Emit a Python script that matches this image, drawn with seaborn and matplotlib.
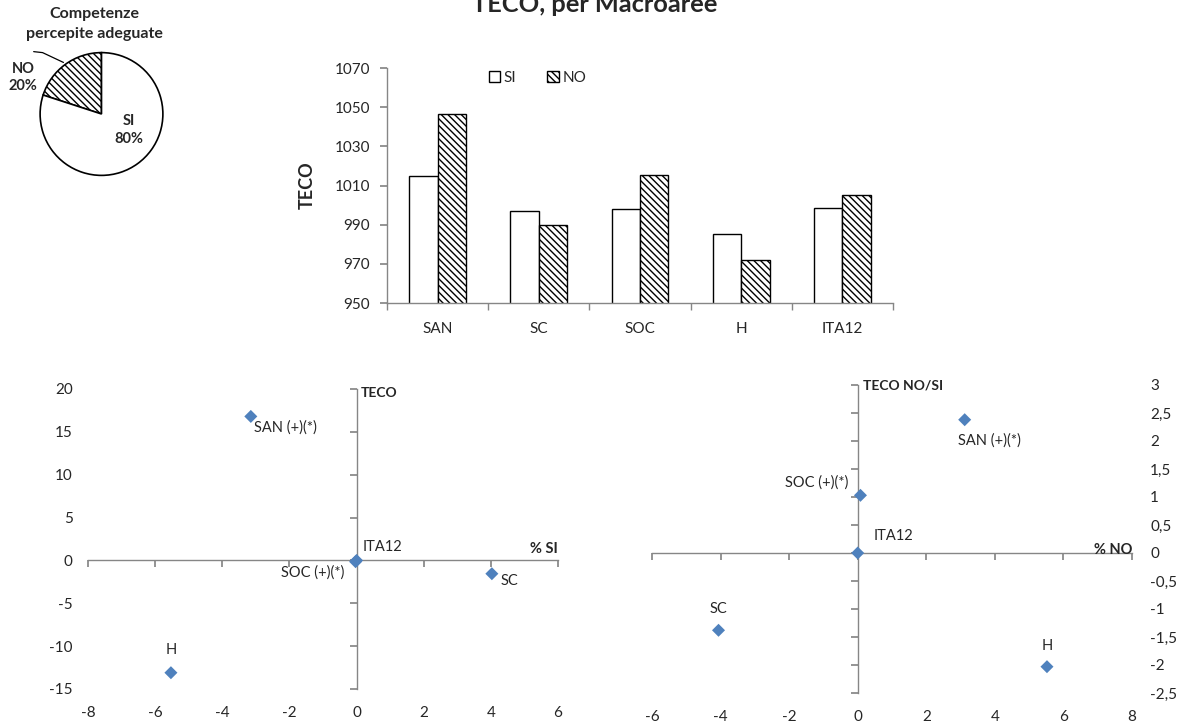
import matplotlib
matplotlib.use("Agg")
import matplotlib.pyplot as plt
from matplotlib.patches import Patch
from matplotlib.ticker import FuncFormatter
import seaborn as sns
import pandas as pd

# --- data -------------------------------------------------------------
pie_labels = ["NO", "SI"]
pie_values = [20, 80]

macroaree = ["SAN", "SC", "SOC", "H", "ITA12"]
teco_si = [1015.0, 996.9, 998.1, 985.3, 998.5]
teco_no = [1046.4, 989.8, 1015.4, 972.0, 1005.3]
bar_yticks = [950, 970, 990, 1010, 1030, 1050, 1070]

sc1_labels = ["SAN (+)(*)", "SC", "SOC (+)(*)", "H", "ITA12"]
sc1_x = [-3.15, 4.03, -0.03, -5.53, 0.0]
sc1_y = [16.8, -1.55, -0.15, -13.1, 0.0]
sc1_xticks = [-8, -6, -4, -2, 0, 2, 4, 6]
sc1_yticks = [-15, -10, -5, 0, 5, 10, 15, 20]

sc2_labels = ["SAN (+)(*)", "SC", "SOC (+)(*)", "H", "ITA12"]
sc2_x = [3.12, -4.06, 0.08, 5.52, 0.0]
sc2_y = [2.38, -1.38, 1.03, -2.03, 0.0]
sc2_xticks = [-6, -4, -2, 0, 2, 4, 6, 8]
sc2_yticks = [-2.5, -2, -1.5, -1, -0.5, 0, 0.5, 1, 1.5, 2, 2.5, 3]

# label placement (offset points, ha)
sc1_offsets = {"SAN (+)(*)": ((2.5, -8), "left"), "SC": ((6.5, -5), "left"),
               "SOC (+)(*)": ((-8, -8), "right"), "H": ((0, 16), "center"),
               "ITA12": ((4.3, 10), "left")}
sc2_offsets = {"SAN (+)(*)": ((-5, -15), "left"), "SC": ((0, 15), "center"),
               "SOC (+)(*)": ((-9, 9.4), "right"), "H": ((0, 15), "center"),
               "ITA12": ((11.5, 12), "left")}

GREY = "#868686"
BLUE = "#4F81BD"
HATCH = "\\\\\\\\\\"
W, H = 1178, 722

sns.set_theme(style="white")
plt.rcParams["font.family"] = ["Lato", "DejaVu Sans"]
plt.rcParams["font.size"] = 10.5
plt.rcParams["hatch.linewidth"] = 1.0
plt.rcParams["axes.unicode_minus"] = False

fig = plt.figure(figsize=(W / 100, H / 100), dpi=100)


def box(left, top, right, bottom):
    return [left / W, 1 - bottom / H, (right - left) / W, (bottom - top) / H]


# --- pie ---------------------------------------------------------------
axp = fig.add_axes(box(39.5, 52, 163.5, 176))
wedges, _ = axp.pie(pie_values, startangle=90, counterclock=True,
                    colors=["white", "white"],
                    wedgeprops=dict(edgecolor="black", linewidth=1.2))
wedges[0].set_hatch(HATCH)
axp.set_xlim(-1.01, 1.01)
axp.set_ylim(-1.01, 1.01)
axp.text(-1.28, 0.6, f"{pie_labels[0]}\n{pie_values[0]}%", ha="center", va="center",
         fontweight="bold", fontsize=10.5, linespacing=1.3, clip_on=False)
axp.text(0.44, -0.26, f"{pie_labels[1]}\n{pie_values[1]}%", ha="center", va="center",
         fontweight="bold", fontsize=10.5, linespacing=1.3)
axp.plot([-1.105, -0.96, -0.62], [1.016, 1.0, 0.84], color="black", lw=0.9, clip_on=False)
fig.text(94 / W, 1 - 24 / H, "Competenze\npercepite adeguate", ha="center", va="center",
         fontweight="bold", fontsize=11.5, linespacing=1.5)

# --- bars --------------------------------------------------------------
axb = fig.add_axes(box(387, 68, 893, 303))
df = pd.DataFrame({"Macroarea": macroaree * 2,
                   "TECO": teco_si + teco_no,
                   "Risposta": ["SI"] * len(macroaree) + ["NO"] * len(macroaree)})
sns.barplot(data=df, x="Macroarea", y="TECO", hue="Risposta",
            palette={"SI": "white", "NO": "white"}, edgecolor="black", linewidth=1,
            width=0.56, errorbar=None, legend=False, saturation=1, ax=axb)
for bar in axb.containers[1]:
    bar.set_hatch(HATCH)
axb.set_ylim(950, 1070)
axb.set_yticks(bar_yticks)
axb.set_xlim(-0.5, len(macroaree) - 0.5)
axb.set_xlabel("")
axb.set_ylabel("TECO", fontsize=13, fontweight="bold")
axb.yaxis.set_label_coords(-(387 - 316) / 506, 0.5)
for s in ["top", "right"]:
    axb.spines[s].set_visible(False)
for s in ["left", "bottom"]:
    axb.spines[s].set_color(GREY)
    axb.spines[s].set_linewidth(1)
axb.set_xticks([i - 0.5 for i in range(len(macroaree) + 1)], minor=True)
axb.tick_params(axis="x", which="major", length=0, pad=14)
axb.tick_params(axis="x", which="minor", length=5, color=GREY, direction="out", bottom=True)
axb.tick_params(axis="y", length=5, color=GREY, direction="out", left=True, pad=7)
fig.legend(handles=[Patch(facecolor="white", edgecolor="black", label="SI"),
                    Patch(facecolor="white", edgecolor="black", hatch=HATCH, label="NO")],
           ncol=2, loc="center left", bbox_to_anchor=(481 / W, 1 - 78 / H), frameon=False,
           handlelength=0.75, handleheight=0.75, handletextpad=0.25, columnspacing=2.0,
           borderpad=0, fontsize=11)
fig.text(594.5 / W, 1 - 12.5 / H, "TECO, per Macroaree", ha="center", va="baseline",
         fontsize=18.3, fontweight="bold")


# --- scatters ----------------------------------------------------------
def quadrant(ax, xs, ys, labels, offsets):
    sns.scatterplot(x=xs, y=ys, marker="D", s=44, color=BLUE, edgecolor="none",
                    ax=ax, zorder=4, clip_on=False)
    for lab, x, y in zip(labels, xs, ys):
        off, ha = offsets[lab]
        ax.annotate(lab, (x, y), xytext=off, textcoords="offset points",
                    ha=ha, va="center", fontsize=10.5)
    ax.spines["top"].set_position(("data", 0))
    ax.spines["bottom"].set_visible(False)
    ax.tick_params(axis="x", bottom=False, top=True, labelbottom=True, labeltop=False,
                   direction="in", length=5, color=GREY, pad=12)


ax1 = fig.add_axes(box(88, 389, 558, 689))
quadrant(ax1, sc1_x, sc1_y, sc1_labels, sc1_offsets)
ax1.set_xlim(-8, 6)
ax1.set_ylim(-15, 20)
ax1.set_xticks(sc1_xticks)
ax1.set_yticks(sc1_yticks)
ax1.spines["right"].set_position(("data", 0))
ax1.spines["left"].set_visible(False)
for s in ["top", "right"]:
    ax1.spines[s].set_color(GREY)
    ax1.spines[s].set_linewidth(1)
ax1.tick_params(axis="y", left=False, right=True, labelleft=True, labelright=False,
                direction="in", length=5, color=GREY, pad=11)
ax1.annotate("TECO", (0, 20), xytext=(3, -3), textcoords="offset points",
             ha="left", va="center", fontweight="bold", fontsize=10)
ax1.annotate("% SI", (6, 0), xytext=(0, 8), textcoords="offset points",
             ha="right", va="center", fontweight="bold", fontsize=10.5)

ax2 = fig.add_axes(box(652, 385, 1132, 693))
quadrant(ax2, sc2_x, sc2_y, sc2_labels, sc2_offsets)
ax2.set_xlim(-6, 8)
ax2.set_ylim(-2.5, 3)
ax2.set_xticks(sc2_xticks)
ax2.set_yticks(sc2_yticks)
ax2.yaxis.set_major_formatter(FuncFormatter(lambda v, p: f"{v:g}".replace(".", ",")))
ax2.spines["left"].set_position(("data", 0))
ax2.spines["right"].set_visible(False)
for s in ["top", "left"]:
    ax2.spines[s].set_color(GREY)
    ax2.spines[s].set_linewidth(1)
ax2.tick_params(axis="y", left=True, right=False, labelleft=False, labelright=True,
                direction="out", length=5, color=GREY, pad=8)
ax2.annotate("TECO NO/SI", (0, 3), xytext=(4, 0), textcoords="offset points",
             ha="left", va="center", fontweight="bold", fontsize=10)
ax2.annotate("% NO", (8, 0), xytext=(0, 2.5), textcoords="offset points",
             ha="right", va="center", fontweight="bold", fontsize=10.5)

for ax in (ax1, ax2):
    ax.patch.set_visible(False)

fig.savefig("out.png", dpi=100)
